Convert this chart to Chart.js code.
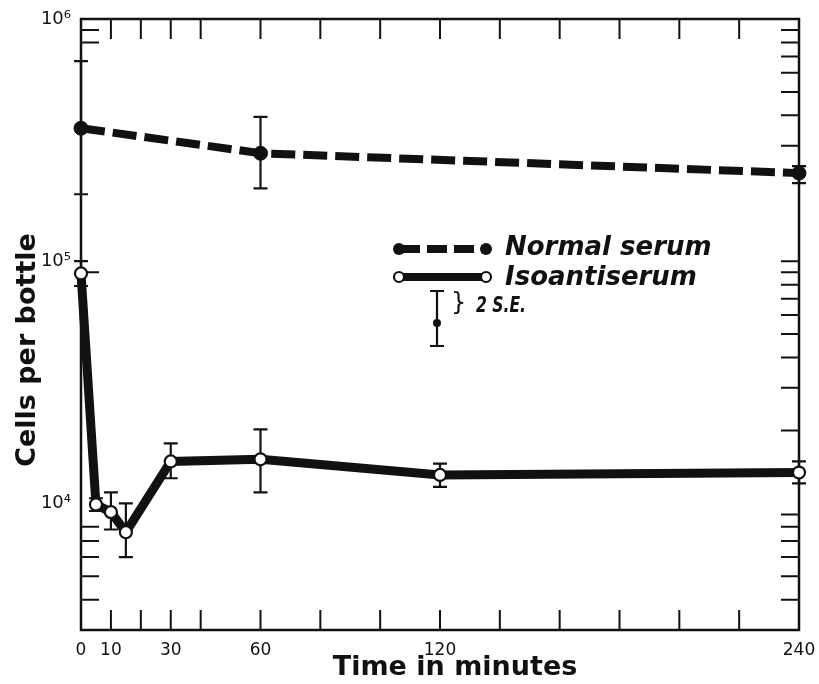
<!DOCTYPE html>
<html>
<head>
<meta charset="utf-8">
<script src="https://cdn.jsdelivr.net/npm/chart.js@4"></script>
<style>
  html, body { margin: 0; padding: 0; background: #fff; }
  #wrap { width: 819px; height: 684px; }
</style>
</head>
<body>
<div id="wrap"><canvas id="chart" width="819" height="684"></canvas></div>
<script>
// values (cells per bottle vs time in minutes)
const isoTimes = [0, 5, 10, 15, 30, 60, 120, 240];
const isoMean = [89000, 9900, 9200, 7600, 14900, 15200, 13100, 13400];
const isoHigh = [100000, 10500, 11100, 10000, 17700, 20200, 14600, 14900];
const isoLow = [79000, 9300, 7800, 6000, 12700, 11100, 11700, 12100];

const normTimes = [0, 60, 240];
const normMean = [354000, 279000, 231000];
const normHigh = [670000, 394000, 247000];
const normLow = [189000, 200000, 210000];

const xLabelTicks = [0, 10, 30, 60, 120, 240];
const xMinorTicks = [10, 20, 30, 40, 60, 80, 100, 120, 140, 160, 180, 200, 220];
const yLabelTicks = [1e4, 1e5, 1e6];
// the original only draws some of the log minor ticks on each side
const yLeftTicks = [900000, 800000, 90000, 8000, 7000, 6000, 5000, 4000];
const yRightTicks = [
  900000, 800000, 700000, 600000, 500000, 400000, 300000,
  100000, 90000, 80000, 70000, 60000, 50000, 40000, 30000, 20000,
  9000, 8000, 7000, 6000, 5000, 4000,
];

const INK = "#111";
const sup = { "4": "\u2074", "5": "\u2075", "6": "\u2076" };

// error bars, drawn under the markers
const errorBars = {
  id: "errorBars",
  beforeDatasetsDraw(chart) {
    const { ctx, scales: { x, y } } = chart;
    const sets = [
      [isoTimes, isoLow, isoHigh],
      [normTimes, normLow, normHigh],
    ];
    ctx.save();
    ctx.strokeStyle = INK;
    ctx.lineWidth = 2.2;
    sets.forEach(([t, lo, hi]) => {
      t.forEach((tv, i) => {
        const px = x.getPixelForValue(tv);
        const y1 = y.getPixelForValue(lo[i]);
        const y2 = y.getPixelForValue(hi[i]);
        ctx.beginPath();
        ctx.moveTo(px, y1);
        ctx.lineTo(px, y2);
        ctx.moveTo(px - 7, y1);
        ctx.lineTo(px + 7, y1);
        ctx.moveTo(px - 7, y2);
        ctx.lineTo(px + 7, y2);
        ctx.stroke();
      });
    });
    ctx.restore();
  },
};

// frame with inward tick marks on all four sides
const frame = {
  id: "frame",
  beforeDatasetsDraw(chart) {
    const { ctx, chartArea: a, scales: { x, y } } = chart;
    ctx.save();
    ctx.strokeStyle = INK;
    ctx.lineWidth = 2;
    ctx.beginPath();
    xMinorTicks.forEach((v) => {
      const px = x.getPixelForValue(v);
      ctx.moveTo(px, a.bottom);
      ctx.lineTo(px, a.bottom - 20);
      ctx.moveTo(px, a.top);
      ctx.lineTo(px, a.top + 20);
    });
    yLeftTicks.forEach((v) => {
      const py = y.getPixelForValue(v);
      ctx.moveTo(a.left, py);
      ctx.lineTo(a.left + 18, py);
    });
    yRightTicks.forEach((v) => {
      const py = y.getPixelForValue(v);
      ctx.moveTo(a.right, py);
      ctx.lineTo(a.right - 18, py);
    });
    ctx.stroke();
    ctx.lineWidth = 2.5;
    ctx.strokeRect(a.left, a.top, a.right - a.left, a.bottom - a.top);
    ctx.restore();
  },
  afterDraw(chart) {
    const { ctx } = chart;
    ctx.save();
    ctx.fillStyle = INK;
    // axis titles
    ctx.font = "bold 27px 'DejaVu Sans'";
    ctx.textAlign = "center";
    ctx.textBaseline = "middle";
    ctx.fillText("Time in minutes", 455, 668);
    ctx.translate(28, 350);
    ctx.rotate(-Math.PI / 2);
    ctx.font = "bold 27px 'DejaVu Sans'";
    ctx.fillText("Cells per bottle", 0, 0);
    ctx.restore();

    // legend
    ctx.save();
    ctx.strokeStyle = INK;
    ctx.fillStyle = INK;
    ctx.lineCap = "butt";
    // normal serum sample
    ctx.lineWidth = 8;
    ctx.setLineDash([20, 7]);
    ctx.beginPath();
    ctx.moveTo(400, 249);
    ctx.lineTo(484, 249);
    ctx.stroke();
    ctx.setLineDash([]);
    [399, 486].forEach((cx) => {
      ctx.beginPath();
      ctx.arc(cx, 249, 6, 0, Math.PI * 2);
      ctx.fill();
    });
    // isoantiserum sample
    ctx.lineWidth = 8;
    ctx.beginPath();
    ctx.moveTo(400, 277);
    ctx.lineTo(484, 277);
    ctx.stroke();
    ctx.lineWidth = 2.2;
    ctx.fillStyle = "#fff";
    [399, 486].forEach((cx) => {
      ctx.beginPath();
      ctx.arc(cx, 277, 5, 0, Math.PI * 2);
      ctx.fill();
      ctx.stroke();
    });
    // 2 S.E. sample
    ctx.fillStyle = INK;
    ctx.beginPath();
    ctx.moveTo(437, 291);
    ctx.lineTo(437, 346);
    ctx.moveTo(430, 291);
    ctx.lineTo(444, 291);
    ctx.moveTo(430, 346);
    ctx.lineTo(444, 346);
    ctx.stroke();
    ctx.beginPath();
    ctx.arc(437, 323, 4, 0, Math.PI * 2);
    ctx.fill();

    ctx.font = "italic bold 26px 'DejaVu Sans'";
    ctx.textAlign = "left";
    ctx.textBaseline = "middle";
    ctx.fillText("Normal serum", 505, 248);
    ctx.fillText("Isoantiserum", 505, 278);
    ctx.font = "24px 'DejaVu Sans'";
    ctx.fillText("}", 451, 304);
    ctx.font = "italic bold 21px 'DejaVu Sans'";
    ctx.fillText("2 S.E.", 476, 307, 50);
    ctx.restore();
  },
};

new Chart(document.getElementById("chart"), {
  type: "line",
  data: {
    datasets: [
      {
        label: "Normal serum",
        data: normTimes.map((t, i) => ({ x: t, y: normMean[i] })),
        borderColor: INK,
        borderWidth: 8,
        borderDash: [24, 8],
        borderCapStyle: "butt",
        pointRadius: 7,
        pointBackgroundColor: INK,
        pointBorderColor: INK,
        pointBorderWidth: 1,
        tension: 0,
        clip: false,
      },
      {
        label: "Isoantiserum",
        data: isoTimes.map((t, i) => ({ x: t, y: isoMean[i] })),
        borderColor: INK,
        borderWidth: 9,
        pointRadius: 6,
        pointBackgroundColor: "#fff",
        pointBorderColor: INK,
        pointBorderWidth: 2.2,
        tension: 0,
        clip: false,
      },
    ],
  },
  options: {
    responsive: false,
    animation: false,
    layout: { padding: { left: 0, right: 20, top: 19, bottom: 0 } },
    plugins: {
      legend: { display: false },
      tooltip: { enabled: false },
    },
    scales: {
      x: {
        type: "linear",
        min: 0,
        max: 240,
        grid: { display: false, drawTicks: false },
        border: { display: false },
        afterBuildTicks: (s) => {
          s.ticks = xLabelTicks.map((v) => ({ value: v }));
        },
        afterFit: (s) => {
          s.height = 54;
          s.paddingLeft = 0;
          s.paddingRight = 0;
        },
        ticks: {
          autoSkip: false,
          maxRotation: 0,
          padding: 10,
          color: INK,
          font: { family: "'DejaVu Sans'", size: 17 },
          callback: (v) => String(v),
        },
      },
      y: {
        type: "logarithmic",
        min: 3000,
        max: 1e6,
        grid: { display: false, drawTicks: false },
        border: { display: false },
        afterBuildTicks: (s) => {
          s.ticks = yLabelTicks.map((v) => ({ value: v }));
        },
        afterFit: (s) => {
          s.width = 81;
          s.paddingTop = 0;
          s.paddingBottom = 0;
        },
        ticks: {
          autoSkip: false,
          padding: 10,
          color: INK,
          font: { family: "'DejaVu Sans'", size: 18 },
          callback: (v) => {
            const e = String(Math.round(Math.log10(v)));
            return "10" + (sup[e] || e);
          },
        },
      },
    },
  },
  plugins: [errorBars, frame],
});
</script>
</body>
</html>
